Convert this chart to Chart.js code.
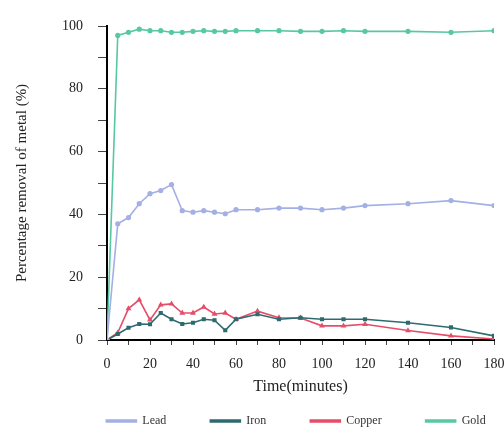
<!DOCTYPE html>
<html>
<head>
<meta charset="utf-8">
<script src="https://cdn.jsdelivr.net/npm/chart.js@4/dist/chart.umd.min.js"></script>
<style>
  html, body { margin: 0; padding: 0; background: #fff; }
  #wrap { width: 504px; height: 430px; position: relative; }
</style>
</head>
<body>
<div id="wrap"><canvas id="chart"></canvas></div>
<script>
// Time points (minutes)
const times = [0, 5, 10, 15, 20, 25, 30, 35, 40, 45, 50, 55, 60, 70, 80, 90, 100, 110, 120, 140, 160, 180];

// Percentage removal per metal
const lead   = [0, 37, 39, 43.4, 46.6, 47.6, 49.5, 41.2, 40.7, 41.2, 40.7, 40.2, 41.5, 41.5, 42, 42, 41.5, 42, 42.8, 43.4, 44.4, 42.8];
const iron   = [0, 1.9, 3.9, 5.1, 5, 8.6, 6.6, 5.1, 5.5, 6.6, 6.3, 3.1, 6.6, 8.2, 6.6, 7.1, 6.6, 6.6, 6.6, 5.5, 4, 1.3];
const copper = [0, 2.3, 10, 12.8, 6.4, 11.2, 11.5, 8.6, 8.6, 10.5, 8.3, 8.6, 6.6, 9.2, 7.1, 7, 4.5, 4.5, 5, 3, 1.3, 0.3];
const gold   = [0, 97, 98, 99, 98.5, 98.5, 98, 98, 98.3, 98.5, 98.3, 98.3, 98.5, 98.5, 98.5, 98.3, 98.3, 98.5, 98.3, 98.3, 98, 98.5];

// Series colors
const colors = {
  lead: '#a4b0e4',
  iron: '#2e6b70',
  copper: '#e64d69',
  gold: '#58c8a4'
};

function toPoints(values) {
  return times.map((t, i) => ({ x: t, y: values[i] }));
}

function makeSet(label, values, color, style) {
  return {
    label: label,
    data: toPoints(values),
    borderColor: color,
    backgroundColor: color,
    borderWidth: 1.6,
    pointRadius: 1.8,
    pointStyle: style,
    tension: 0
  };
}

const legendPad = 44;

// Move the legend row into place (it sits under the axis title like the original)
const legendPlace = {
  id: 'legendPlace',
  afterInit(chart) {
    const lg = chart.legend;
    const fit = lg.fit;
    lg.fit = function () {
      fit.call(this);
      this.height = 29;
    };
  },
  afterLayout(chart) {
    const lg = chart.legend;
    lg.top = 421 - 6 - legendPad;
    lg.left = 44;
    lg.right = 548;
  }
};

const serif = 'Liberation Serif';

new Chart(document.getElementById('chart'), {
  type: 'line',
  data: {
    datasets: [
      makeSet('Lead', lead, colors.lead, 'circle'),
      makeSet('Iron', iron, colors.iron, 'rect'),
      makeSet('Copper', copper, colors.copper, 'triangle'),
      makeSet('Gold', gold, colors.gold, 'circle')
    ]
  },
  plugins: [legendPlace],
  options: {
    responsive: true,
    maintainAspectRatio: false,
    animation: false,
    layout: { padding: { top: 26, right: 10, left: 13, bottom: 0 } },
    plugins: {
      legend: {
        position: 'bottom',
        labels: {
          color: '#333',
          font: { family: serif, size: 12 },
          boxWidth: 30,
          boxHeight: 2,
          padding: legendPad
        }
      },
      tooltip: { enabled: false }
    },
    scales: {
      x: {
        type: 'linear',
        min: 0,
        max: 180,
        afterFit: s => { s.paddingLeft = 0; s.paddingRight = 0; },
        border: { color: '#000', width: 2 },
        grid: { drawOnChartArea: false, color: '#444', tickLength: 5 },
        ticks: {
          stepSize: 10,
          autoSkip: false,
          maxRotation: 0,
          color: '#222',
          padding: 12,
          font: { family: serif, size: 14, lineHeight: 1 },
          callback: v => (v % 20 === 0 ? v : '')
        },
        title: {
          display: true,
          text: 'Time(minutes)',
          color: '#222',
          font: { family: serif, size: 16, lineHeight: 1 },
          padding: { top: -4, bottom: 6 }
        }
      },
      y: {
        min: 0,
        max: 100,
        afterFit: s => { s.width = 94; },
        border: { color: '#000', width: 2 },
        grid: { drawOnChartArea: false, color: '#444', tickLength: 9 },
        ticks: {
          stepSize: 10,
          autoSkip: false,
          color: '#222',
          padding: 15,
          font: { family: serif, size: 14 },
          callback: v => (v % 20 === 0 ? v : '')
        },
        title: {
          display: true,
          text: 'Percentage removal of metal (%)',
          color: '#222',
          font: { family: serif, size: 15 },
          padding: { top: 0, bottom: 0 }
        }
      }
    }
  }
});
</script>
</body>
</html>
